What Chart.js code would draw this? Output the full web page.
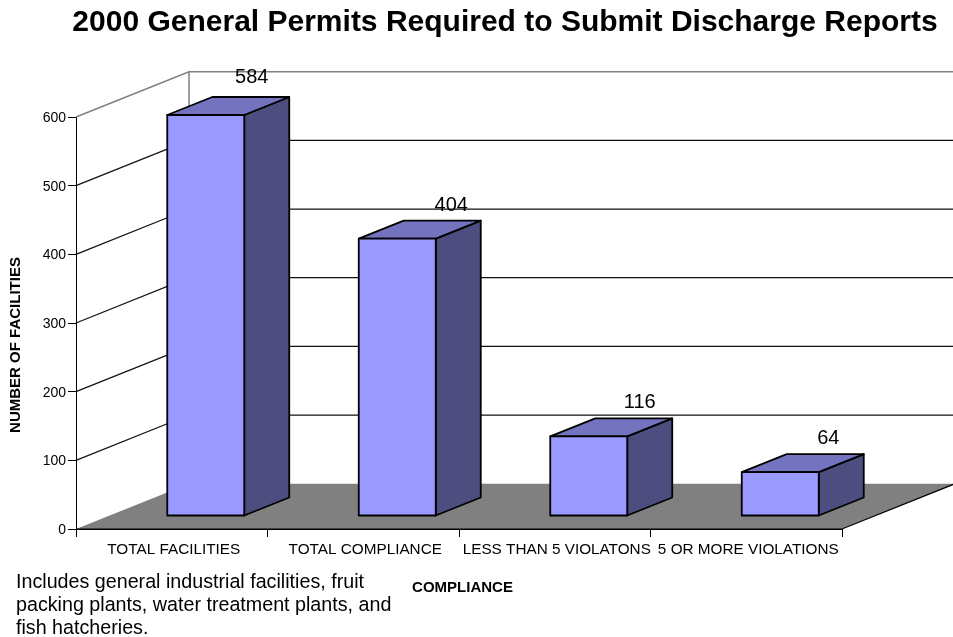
<!DOCTYPE html>
<html>
<head>
<meta charset="utf-8">
<style>
html,body{margin:0;padding:0;background:#fff;overflow:hidden}
#wrap{position:absolute;left:0;top:0;width:953px;height:637px}
</style>
<script src="https://cdn.jsdelivr.net/npm/chart.js@4"></script>
</head>
<body>
<div id="wrap"><canvas id="c" width="953" height="637"></canvas></div>
<script>
const categories = ["TOTAL FACILITIES","TOTAL COMPLIANCE","LESS THAN 5 VIOLATONS","5 OR MORE VIOLATIONS"];
const facilities = [584,404,116,64];
const yTicks = [0,100,200,300,400,500,600];
const chartTitle = "2000 General Permits Required to Submit Discharge Reports";
const xTitle = "COMPLIANCE";
const yTitle = "NUMBER OF FACILITIES";
const noteLines = ["Includes general industrial facilities, fruit","packing plants, water treatment plants, and","fish hatcheries."];

const FONT = '"Liberation Sans", Arial, sans-serif';
const WALL = {dx:113, dy:-45.3};   // depth of the chart box
const BAR  = {sx:34, sy:-13, dx:45, dy:-18}; // placement in the box and depth of each bar
const labelNudge = [[46,-20],[54,-15],[51,-16],[48,-16]];

const box3d = {
  id:'box3d',
  afterLayout(chart){
    const t = chart.titleBlock;
    t.left = 57; t.right = 953;
  },
  beforeDatasetsDraw(chart){
    const {ctx, scales:{x,y}} = chart;
    const L=x.left, R=x.right, B=y.getPixelForValue(0);
    ctx.save();
    ctx.lineCap='butt';
    // gridlines on side and back walls
    yTicks.forEach(v=>{
      if(v===0) return;
      const py=y.getPixelForValue(v);
      const top = v===yTicks[yTicks.length-1];
      ctx.strokeStyle = top ? '#808080' : '#111';
      ctx.lineWidth = top ? 1.5 : 1.2;
      ctx.beginPath();
      ctx.moveTo(L,py);
      ctx.lineTo(L+WALL.dx,py+WALL.dy);
      ctx.lineTo(R+WALL.dx,py+WALL.dy);
      ctx.stroke();
    });
    // back-wall corner
    ctx.strokeStyle='#808080';
    ctx.lineWidth=1.5;
    ctx.beginPath();
    ctx.moveTo(L+WALL.dx,B+WALL.dy);
    ctx.lineTo(L+WALL.dx,y.getPixelForValue(600)+WALL.dy);
    ctx.stroke();
    // floor
    ctx.fillStyle='#808080';
    ctx.beginPath();
    ctx.moveTo(L,B);ctx.lineTo(R,B);ctx.lineTo(R+WALL.dx,B+WALL.dy);ctx.lineTo(L+WALL.dx,B+WALL.dy);
    ctx.closePath();ctx.fill();
    ctx.strokeStyle='#000';
    ctx.lineWidth=1.2;
    ctx.beginPath();ctx.moveTo(L,B);ctx.lineTo(R,B);ctx.lineTo(R+WALL.dx,B+WALL.dy);ctx.stroke();
    // bar side and top faces
    ctx.lineWidth=1.8;
    ctx.lineJoin='round';
    chart.getDatasetMeta(0).data.forEach(b=>{
      const l=b.x-b.width/2+BAR.sx, r=b.x+b.width/2+BAR.sx, t=b.y+BAR.sy, bt=b.base+BAR.sy;
      ctx.fillStyle='#4D4D80';
      ctx.beginPath();
      ctx.moveTo(r,t);ctx.lineTo(r+BAR.dx,t+BAR.dy);ctx.lineTo(r+BAR.dx,bt+BAR.dy);ctx.lineTo(r,bt);
      ctx.closePath();ctx.fill();ctx.stroke();
      ctx.fillStyle='#7373BF';
      ctx.beginPath();
      ctx.moveTo(l,t);ctx.lineTo(l+BAR.dx,t+BAR.dy);ctx.lineTo(r+BAR.dx,t+BAR.dy);ctx.lineTo(r,t);
      ctx.closePath();ctx.fill();ctx.stroke();
    });
    ctx.restore();
    ctx.save();
    ctx.translate(BAR.sx,BAR.sy);
  },
  afterDatasetsDraw(chart){
    const {ctx} = chart;
    ctx.restore();
    ctx.save();
    // outline of the front faces, centred on the bar edges
    ctx.strokeStyle='#000';
    ctx.lineWidth=1.8;
    ctx.lineJoin='round';
    chart.getDatasetMeta(0).data.forEach(b=>{
      ctx.strokeRect(b.x-b.width/2+BAR.sx, b.y+BAR.sy, b.width, b.base-b.y);
    });
    ctx.fillStyle='#000';
    ctx.textAlign='center';
    ctx.textBaseline='middle';
    ctx.font='20px '+FONT;
    chart.getDatasetMeta(0).data.forEach((b,i)=>{
      ctx.fillText(String(facilities[i]), b.x+BAR.sx+labelNudge[i][0], b.y+BAR.sy+BAR.dy+labelNudge[i][1]);
    });
    ctx.restore();
  },
  afterDraw(chart){
    const {ctx} = chart;
    ctx.save();
    ctx.fillStyle='#000';
    ctx.font='bold 15px '+FONT;
    ctx.textAlign='center';
    ctx.textBaseline='middle';
    ctx.fillText(xTitle,462.5,588);
    ctx.save();
    ctx.translate(16,345);
    ctx.rotate(-Math.PI/2);
    ctx.fillText(yTitle,0,0);
    ctx.restore();
    ctx.font='19.7px '+FONT;
    ctx.textAlign='left';
    noteLines.forEach((s,i)=>ctx.fillText(s,16,583+i*23));
    ctx.restore();
  }
};

new Chart(document.getElementById('c'),{
  type:'bar',
  data:{
    labels:categories,
    datasets:[{
      data:facilities,
      backgroundColor:'#9999FF',
      borderWidth:0,
      barPercentage:0.402,
      categoryPercentage:1,
      clip:false
    }]
  },
  options:{
    responsive:false,
    animation:false,
    layout:{padding:{top:0,right:111,bottom:0,left:0}},
    plugins:{
      legend:{display:false},
      tooltip:{enabled:false},
      title:{
        display:true,
        text:chartTitle,
        color:'#000',
        font:{family:FONT,size:30,weight:'bold',lineHeight:1},
        padding:{top:8,bottom:79}
      }
    },
    scales:{
      x:{
        afterFit(s){s.height=108;},
        border:{color:'#000',width:1},
        grid:{drawOnChartArea:false,tickLength:8,tickColor:'#000',offset:true},
        ticks:{color:'#000',font:{family:FONT,size:15.3},maxRotation:0,minRotation:0,autoSkip:false,padding:4,labelOffset:2}
      },
      y:{
        min:0,max:600,
        afterFit(s){s.width=76;},
        afterBuildTicks(s){s.ticks=yTicks.map(v=>({value:v}));},
        border:{color:'#000',width:1},
        grid:{drawOnChartArea:false,tickLength:8,tickColor:'#000'},
        ticks:{color:'#000',font:{family:FONT,size:14},padding:2,labelOffset:1}
      }
    }
  },
  plugins:[box3d]
});
</script>
</body>
</html>
